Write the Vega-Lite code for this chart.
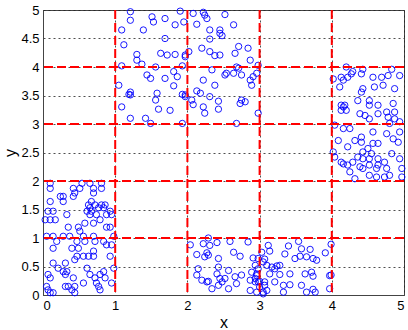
{
  "$schema": "https://vega.github.io/schema/vega-lite/v6.json",
  "autosize": "none",
  "width": 361,
  "height": 285,
  "padding": {"left": 43, "top": 10, "right": 4, "bottom": 35},
  "background": "white",
  "config": {
    "view": {"stroke": "#444", "strokeWidth": 1},
    "axis": {
      "labelFont": "Liberation Sans",
      "labelFontSize": 13,
      "labelColor": "#000",
      "titleFont": "Liberation Sans",
      "titleFontSize": 16,
      "titleFontWeight": "normal",
      "titleColor": "#000",
      "domainColor": "#444",
      "tickColor": "#444",
      "tickSize": 0,
      "grid": true,
      "gridColor": "#222",
      "gridDash": [2, 3],
      "gridWidth": 0.8,
      "gridOpacity": 1
    }
  },
  "datasets": {
    "vlines": [{"v": 1}, {"v": 2}, {"v": 3}, {"v": 4}],
    "pts": [
      {"x":0.10,"y":1.96},{"x":0.54,"y":1.96},{"x":0.65,"y":1.96},{"x":0.81,"y":1.96},
      {"x":0.10,"y":1.87},{"x":0.42,"y":1.87},{"x":0.51,"y":1.87},{"x":0.70,"y":1.87},{"x":0.81,"y":1.87},
      {"x":0.44,"y":1.79},{"x":0.70,"y":1.79},
      {"x":0.24,"y":1.73},{"x":0.28,"y":1.73},{"x":0.42,"y":1.73},
      {"x":0.10,"y":1.64},{"x":0.28,"y":1.64},{"x":0.67,"y":1.64},
      {"x":0.63,"y":1.58},{"x":0.72,"y":1.58},{"x":0.81,"y":1.58},{"x":0.86,"y":1.58},
      {"x":0.65,"y":1.53},{"x":0.77,"y":1.53},{"x":0.84,"y":1.53},
      {"x":0.07,"y":1.47},{"x":0.14,"y":1.47},{"x":0.61,"y":1.47},{"x":0.67,"y":1.47},{"x":0.93,"y":1.47},
      {"x":0.33,"y":1.41},{"x":0.65,"y":1.41},{"x":0.74,"y":1.41},{"x":0.88,"y":1.41},{"x":0.95,"y":1.41},
      {"x":0.03,"y":1.32},{"x":0.10,"y":1.32},{"x":0.17,"y":1.32},{"x":0.79,"y":1.32},
      {"x":0.58,"y":1.26},{"x":0.70,"y":1.26},
      {"x":0.35,"y":1.19},{"x":0.49,"y":1.19},{"x":0.88,"y":1.19},{"x":0.93,"y":1.19},
      {"x":0.51,"y":1.12},
      {"x":0.05,"y":1.03},{"x":0.14,"y":1.03},{"x":0.28,"y":1.03},{"x":0.37,"y":1.03},{"x":0.56,"y":1.03},{"x":0.70,"y":1.03},{"x":0.98,"y":1.03},
      {"x":0.19,"y":0.94},{"x":0.47,"y":0.94},{"x":0.58,"y":0.94},{"x":0.72,"y":0.94},{"x":0.84,"y":0.94},
      {"x":0.88,"y":0.88},{"x":0.95,"y":0.88},
      {"x":0.14,"y":0.82},{"x":0.40,"y":0.82},{"x":0.49,"y":0.82},
      {"x":0.70,"y":0.77},
      {"x":0.47,"y":0.68},{"x":0.56,"y":0.68},{"x":0.63,"y":0.68},{"x":0.70,"y":0.68},{"x":0.93,"y":0.68},
      {"x":0.44,"y":0.62},
      {"x":0.14,"y":0.56},{"x":0.31,"y":0.56},
      {"x":0.21,"y":0.47},{"x":0.61,"y":0.47},{"x":0.98,"y":0.47},
      {"x":0.28,"y":0.41},{"x":0.33,"y":0.41},{"x":0.84,"y":0.41},
      {"x":0.07,"y":0.36},{"x":0.31,"y":0.36},{"x":0.65,"y":0.36},{"x":0.79,"y":0.36},
      {"x":0.10,"y":0.30},{"x":0.42,"y":0.30},{"x":0.72,"y":0.30},{"x":0.86,"y":0.30},
      {"x":0.56,"y":0.21},{"x":0.74,"y":0.21},{"x":0.95,"y":0.21},
      {"x":0.05,"y":0.15},{"x":0.31,"y":0.15},{"x":0.35,"y":0.15},{"x":0.44,"y":0.15},{"x":0.77,"y":0.15},
      {"x":0.07,"y":0.09},{"x":0.40,"y":0.09},{"x":0.79,"y":0.09},
      {"x":0.10,"y":0.04},{"x":0.14,"y":0.04},{"x":0.44,"y":0.04},

      {"x":1.21,"y":4.97},{"x":1.90,"y":4.98},{"x":1.51,"y":4.88},{"x":1.69,"y":4.85},{"x":1.21,"y":4.82},
      {"x":1.53,"y":4.79},{"x":1.95,"y":4.79},{"x":1.83,"y":4.74},{"x":1.09,"y":4.65},{"x":1.39,"y":4.65},
      {"x":1.69,"y":4.50},{"x":1.12,"y":4.39},{"x":1.63,"y":4.24},{"x":1.72,"y":4.21},{"x":1.83,"y":4.22},
      {"x":1.30,"y":4.22},{"x":1.97,"y":4.18},{"x":2.02,"y":4.27},{"x":1.30,"y":4.12},{"x":1.37,"y":4.05},
      {"x":1.09,"y":4.02},{"x":1.56,"y":4.00},{"x":1.93,"y":4.02},{"x":1.44,"y":3.86},{"x":1.81,"y":3.92},
      {"x":1.49,"y":3.80},{"x":1.69,"y":3.80},{"x":1.86,"y":3.83},{"x":1.05,"y":3.68},{"x":1.81,"y":3.67},
      {"x":1.21,"y":3.56},{"x":1.19,"y":3.52},{"x":1.21,"y":3.51},{"x":1.58,"y":3.54},{"x":1.93,"y":3.52},
      {"x":1.97,"y":3.48},{"x":1.56,"y":3.42},{"x":1.09,"y":3.30},{"x":1.60,"y":3.26},{"x":1.76,"y":3.24},
      {"x":1.21,"y":3.10},{"x":1.42,"y":3.10},{"x":1.49,"y":3.01},{"x":1.93,"y":3.01},

      {"x":2.08,"y":4.94},{"x":2.22,"y":4.96},{"x":2.24,"y":4.91},{"x":2.52,"y":4.92},{"x":2.27,"y":4.85},
      {"x":2.13,"y":4.75},{"x":2.64,"y":4.74},{"x":2.31,"y":4.65},{"x":2.45,"y":4.65},{"x":2.45,"y":4.59},
      {"x":2.48,"y":4.55},{"x":2.31,"y":4.49},{"x":1.97,"y":4.21},{"x":2.20,"y":4.33},{"x":2.71,"y":4.36},
      {"x":2.84,"y":4.33},{"x":2.31,"y":4.27},{"x":2.38,"y":4.20},{"x":2.45,"y":4.21},{"x":2.66,"y":4.24},
      {"x":2.87,"y":4.12},{"x":2.68,"y":4.00},{"x":2.71,"y":3.98},{"x":2.98,"y":4.03},{"x":2.34,"y":3.95},
      {"x":2.54,"y":3.89},{"x":2.52,"y":3.86},{"x":2.64,"y":3.89},{"x":2.75,"y":3.86},{"x":2.96,"y":3.89},
      {"x":2.91,"y":3.83},{"x":2.87,"y":3.77},{"x":2.22,"y":3.77},{"x":2.38,"y":3.68},{"x":2.89,"y":3.68},
      {"x":1.97,"y":3.51},{"x":2.13,"y":3.58},{"x":2.18,"y":3.54},{"x":2.06,"y":3.42},{"x":2.08,"y":3.34},
      {"x":2.31,"y":3.48},{"x":2.43,"y":3.40},{"x":2.75,"y":3.42},{"x":2.80,"y":3.39},{"x":2.73,"y":3.36},
      {"x":2.22,"y":3.30},{"x":2.43,"y":3.26},{"x":2.24,"y":3.19},{"x":2.98,"y":3.19},{"x":2.68,"y":3.01},

      {"x":2.04,"y":0.88},{"x":2.29,"y":1.00},{"x":2.22,"y":0.90},{"x":2.41,"y":0.92},{"x":2.31,"y":0.87},
      {"x":2.59,"y":0.94},{"x":2.84,"y":0.93},{"x":2.13,"y":0.71},{"x":2.27,"y":0.74},{"x":2.29,"y":0.70},
      {"x":2.24,"y":0.67},{"x":2.64,"y":0.75},{"x":2.73,"y":0.68},{"x":2.91,"y":0.65},{"x":2.43,"y":0.64},
      {"x":3.05,"y":0.58},{"x":2.15,"y":0.46},{"x":2.43,"y":0.49},{"x":2.57,"y":0.43},{"x":2.94,"y":0.52},
      {"x":2.13,"y":0.35},{"x":2.20,"y":0.26},{"x":2.27,"y":0.23},{"x":2.29,"y":0.24},{"x":2.41,"y":0.37},
      {"x":2.45,"y":0.29},{"x":2.48,"y":0.23},{"x":2.52,"y":0.29},{"x":2.66,"y":0.32},{"x":2.75,"y":0.35},
      {"x":2.89,"y":0.40},{"x":2.96,"y":0.37},{"x":2.94,"y":0.29},{"x":2.87,"y":0.26},{"x":2.98,"y":0.23},
      {"x":3.00,"y":0.14},{"x":2.43,"y":0.17},{"x":2.57,"y":0.11},{"x":2.87,"y":0.08},{"x":2.96,"y":0.05},
      {"x":3.05,"y":0.05},{"x":2.68,"y":0.20},{"x":2.34,"y":0.11},

      {"x":3.12,"y":0.87},{"x":3.40,"y":0.86},{"x":3.54,"y":0.94},{"x":3.03,"y":0.75},{"x":3.14,"y":0.77},
      {"x":3.35,"y":0.72},{"x":3.56,"y":0.68},{"x":3.58,"y":0.81},{"x":3.70,"y":0.80},{"x":3.49,"y":0.64},
      {"x":3.65,"y":0.67},{"x":3.74,"y":0.64},{"x":3.79,"y":0.61},{"x":3.91,"y":0.74},{"x":2.98,"y":0.64},
      {"x":3.07,"y":0.63},{"x":3.10,"y":0.52},{"x":3.17,"y":0.49},{"x":3.24,"y":0.51},{"x":3.28,"y":0.52},
      {"x":3.21,"y":0.46},{"x":3.14,"y":0.37},{"x":3.28,"y":0.36},{"x":3.42,"y":0.37},{"x":3.63,"y":0.37},
      {"x":3.72,"y":0.40},{"x":3.74,"y":0.33},{"x":3.97,"y":0.34},{"x":2.94,"y":0.23},{"x":3.00,"y":0.24},
      {"x":3.07,"y":0.23},{"x":3.07,"y":0.17},{"x":3.21,"y":0.23},{"x":3.33,"y":0.17},{"x":3.42,"y":0.18},
      {"x":3.58,"y":0.17},{"x":3.74,"y":0.10},{"x":3.77,"y":0.05},{"x":3.65,"y":0.05},{"x":3.10,"y":0.08},
      {"x":3.05,"y":0.02},{"x":3.33,"y":0.05},{"x":2.96,"y":0.34},{"x":2.98,"y":0.46},{"x":3.97,"y":0.11},
      {"x":3.99,"y":0.89},{"x":3.99,"y":0.35},

      {"x":4.20,"y":4.00},{"x":4.43,"y":3.96},{"x":4.83,"y":3.96},{"x":4.02,"y":3.79},{"x":4.13,"y":3.82},
      {"x":4.16,"y":3.77},{"x":4.22,"y":3.82},{"x":4.27,"y":3.88},{"x":4.29,"y":3.92},{"x":4.41,"y":3.88},
      {"x":4.57,"y":3.82},{"x":4.69,"y":3.82},{"x":4.78,"y":3.85},{"x":4.94,"y":3.85},{"x":4.11,"y":3.65},
      {"x":4.41,"y":3.56},{"x":4.43,"y":3.62},{"x":4.59,"y":3.65},{"x":4.71,"y":3.68},{"x":4.87,"y":3.62},
      {"x":4.13,"y":3.33},{"x":4.16,"y":3.30},{"x":4.18,"y":3.33},{"x":4.13,"y":3.24},{"x":4.20,"y":3.24},
      {"x":4.36,"y":3.41},{"x":4.52,"y":3.41},{"x":4.52,"y":3.33},{"x":4.64,"y":3.33},{"x":4.64,"y":3.18},
      {"x":4.76,"y":3.21},{"x":4.85,"y":3.36},{"x":4.87,"y":3.21},{"x":4.39,"y":3.18},{"x":4.46,"y":3.15},
      {"x":4.52,"y":3.09},{"x":4.78,"y":3.12},{"x":4.87,"y":3.09},{"x":4.94,"y":3.04},{"x":4.80,"y":3.01},
      {"x":4.04,"y":2.98},{"x":4.16,"y":2.92},{"x":4.25,"y":2.92},{"x":4.09,"y":2.71},{"x":4.32,"y":2.71},
      {"x":4.41,"y":2.77},{"x":4.57,"y":2.86},{"x":4.57,"y":2.66},{"x":4.64,"y":2.66},{"x":4.50,"y":2.57},
      {"x":4.22,"y":2.60},{"x":4.43,"y":2.51},{"x":4.55,"y":2.48},{"x":4.76,"y":2.83},{"x":4.85,"y":2.74},
      {"x":4.92,"y":2.68},{"x":4.94,"y":2.86},{"x":4.41,"y":2.68},{"x":4.02,"y":2.51},{"x":4.04,"y":2.42},
      {"x":4.36,"y":2.42},{"x":4.43,"y":2.39},{"x":4.52,"y":2.39},{"x":4.64,"y":2.39},{"x":4.83,"y":2.48},
      {"x":4.73,"y":2.33},{"x":4.94,"y":2.39},{"x":4.13,"y":2.33},{"x":4.16,"y":2.30},{"x":4.22,"y":2.28},
      {"x":4.29,"y":2.33},{"x":4.39,"y":2.25},{"x":4.43,"y":2.22},{"x":4.52,"y":2.28},{"x":4.64,"y":2.28},
      {"x":4.62,"y":2.22},{"x":4.76,"y":2.22},{"x":4.97,"y":2.22},{"x":4.25,"y":2.16},{"x":4.52,"y":2.10},
      {"x":4.62,"y":2.07},{"x":4.80,"y":2.10},{"x":4.73,"y":2.07},{"x":4.32,"y":2.04},{"x":4.97,"y":2.07}
    ]
  },
  "layer": [
    {
      "data": {"name": "pts"},
      "mark": {"type": "point", "shape": "circle", "filled": false, "color": "#0000ff", "size": 40, "strokeWidth": 0.9, "opacity": 1},
      "encoding": {
        "x": {"field": "x", "type": "quantitative", "scale": {"domain": [0, 5], "nice": false, "zero": false},
              "axis": {"title": "x", "values": [0, 1, 2, 3, 4, 5], "format": "~g", "grid": true, "titlePadding": 2, "labelPadding": 4}},
        "y": {"field": "y", "type": "quantitative", "scale": {"domain": [0, 5], "nice": false, "zero": false},
              "axis": {"title": "y", "values": [0, 0.5, 1, 1.5, 2, 2.5, 3, 3.5, 4, 4.5, 5], "format": "~g", "grid": true, "titlePadding": 2, "labelPadding": 4}}
      }
    },
    {
      "data": {"name": "vlines"},
      "mark": {"type": "rule", "color": "#ff0000", "strokeWidth": 2, "strokeDash": [9, 4]},
      "encoding": {
        "x": {"field": "v", "type": "quantitative",
              "axis": {"title": "x", "values": [0, 1, 2, 3, 4, 5], "format": "~g", "grid": true, "titlePadding": 2, "labelPadding": 4}}
      }
    },
    {
      "data": {"name": "vlines"},
      "mark": {"type": "rule", "color": "#ff0000", "strokeWidth": 2, "strokeDash": [9, 4]},
      "encoding": {
        "y": {"field": "v", "type": "quantitative",
              "axis": {"title": "y", "values": [0, 0.5, 1, 1.5, 2, 2.5, 3, 3.5, 4, 4.5, 5], "format": "~g", "grid": true, "titlePadding": 2, "labelPadding": 4}}
      }
    }
  ]
}
